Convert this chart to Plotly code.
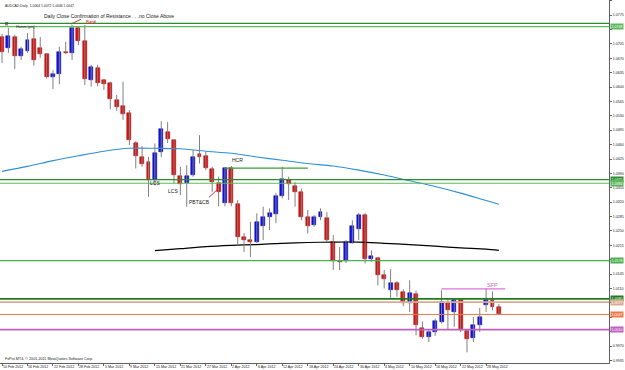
import plotly.graph_objects as go
import pandas as pd

# ---------------- data ----------------
dates = pd.bdate_range("2012-02-10", periods=79)
opens = [1.0722,1.0695,1.0722,1.0676,1.0688,1.0716,1.0694,1.0680,1.0624,1.0632,
         1.0686,1.0682,1.0744,1.0713,1.0617,1.0647,1.0617,1.0609,1.0568,1.0554,
         1.0536,1.0464,1.0430,1.0418,1.0375,1.0443,1.0491,1.0471,1.0383,1.0366,
         1.0386,1.0437,1.0432,1.0400,1.0367,1.0318,1.0403,1.0315,1.0236,1.0228,
         1.0224,1.0262,1.0284,1.0291,1.0335,1.0375,1.0359,1.0344,1.0284,1.0264,
         1.0283,1.0282,1.0224,1.0177,1.0176,1.0221,1.0254,1.0290,1.0181,1.0185,
         1.0144,1.0106,1.0123,1.0102,1.0074,1.0096,1.0013,0.9991,1.0004,1.0029,
         1.0075,1.0053,1.0083,1.0007,0.9989,1.0021,1.0071,1.0083,1.0064]
highs = [1.0729,1.0744,1.0727,1.0698,1.0731,1.0747,1.0722,1.0683,1.0641,1.0698,
         1.0710,1.0751,1.0747,1.0751,1.0654,1.0654,1.0619,1.0613,1.0581,1.0613,
         1.0544,1.0469,1.0456,1.0430,1.0463,1.0517,1.0515,1.0473,1.0406,1.0410,
         1.0447,1.0483,1.0442,1.0406,1.0382,1.0405,1.0408,1.0325,1.0245,1.0272,
         1.0293,1.0309,1.0305,1.0342,1.0406,1.0382,1.0369,1.0353,1.0301,1.0289,
         1.0305,1.0296,1.0240,1.0211,1.0228,1.0276,1.0294,1.0293,1.0203,1.0187,
         1.0155,1.0157,1.0128,1.0108,1.0130,1.0105,1.0030,1.0009,1.0037,1.0106,
         1.0084,1.0085,1.0086,1.0009,1.0041,1.0063,1.0111,1.0103,1.0072]
lows = [1.0658,1.0683,1.0644,1.0666,1.0683,1.0652,1.0671,1.0621,1.0595,1.0607,
        1.0680,1.0666,1.0702,1.0605,1.0601,1.0602,1.0593,1.0546,1.0542,1.0520,
        1.0459,1.0402,1.0406,1.0333,1.0361,1.0430,1.0464,1.0366,1.0337,1.0309,
        1.0382,1.0414,1.0398,1.0345,1.0310,1.0310,1.0310,1.0215,1.0199,1.0187,
        1.0220,1.0228,1.0252,1.0269,1.0329,1.0325,1.0309,1.0276,1.0244,1.0260,
        1.0276,1.0224,1.0155,1.0155,1.0172,1.0219,1.0228,1.0171,1.0175,1.0118,
        1.0110,1.0086,1.0090,1.0067,1.0053,0.9996,0.9988,0.9980,0.9995,1.0025,
        1.0009,1.0017,1.0004,0.9955,0.9980,1.0004,1.0053,1.0057,1.0046]
closes = [1.0686,1.0724,1.0676,1.0692,1.0714,1.0667,1.0680,1.0624,1.0632,1.0686,
          1.0682,1.0744,1.0713,1.0619,1.0649,1.0610,1.0607,1.0570,1.0552,1.0534,
          1.0471,1.0432,1.0414,1.0375,1.0440,1.0497,1.0473,1.0386,1.0364,1.0383,
          1.0429,1.0430,1.0402,1.0368,1.0344,1.0403,1.0318,1.0236,1.0228,1.0224,
          1.0272,1.0284,1.0293,1.0335,1.0376,1.0364,1.0345,1.0284,1.0262,1.0283,
          1.0296,1.0228,1.0176,1.0175,1.0224,1.0262,1.0290,1.0183,1.0189,1.0142,
          1.0134,1.0124,1.0106,1.0074,1.0098,1.0021,0.9992,1.0004,1.0030,1.0077,
          1.0057,1.0083,1.0009,0.9988,1.0021,1.0040,1.0082,1.0064,1.0047]

ma_blue_idx = [0,4,8,12,16,20,24,28,32,36,40,44,48,52,56,60,64,68,72,76,78]
ma_blue = [1.0395,1.0407,1.0421,1.0433,1.0444,1.0451,1.0451,1.0450,1.0444,1.0439,
           1.0430,1.0422,1.0414,1.0408,1.0398,1.0386,1.0372,1.0358,1.0342,1.0324,1.0315]
ma_black_idx = [24,28,32,36,40,44,48,52,56,60,64,68,72,76,78]
ma_black = [1.0202,1.0207,1.0212,1.0215,1.0217,1.0220,1.0222,1.0223,1.0223,1.0220,
            1.0217,1.0213,1.0209,1.0206,1.0203]

level_prices = [1.0755, 1.0747, 1.0375, 1.0366, 1.0178, 1.0085, 1.0077, 1.0047, 1.0010]
level_colors = ["#2E8B2E", "#5DB85D", "#2E8B2E", "#5DB85D", "#4CAF50", "#1E7B1E",
                "#D9AC90", "#F07848", "#C060C0"]
level_widths = [1.2, 1.2, 1.2, 1.2, 1.2, 1.8, 1.8, 1.0, 1.8]
level_tags = ["", "1.0748", "1.0375", "1.0366", "1.0178", "1.0085", "1.0077", "1.0047", "1.0010"]

hcr_x = [35, 48]; hcr_y = 1.0403
sfp_x = [69, 79]; sfp_y = 1.0109

price_ticks = [round(0.9935 + 0.0035 * k, 4) for k in range(26)]
date_labels = ["10 Feb 2012","16 Feb 2012","22 Feb 2012","28 Feb 2012","5 Mar 2012",
               "9 Mar 2012","15 Mar 2012","21 Mar 2012","27 Mar 2012","2 Apr 2012",
               "6 Apr 2012","12 Apr 2012","18 Apr 2012","24 Apr 2012","30 Apr 2012",
               "4 May 2012","10 May 2012","16 May 2012","22 May 2012","28 May 2012"]
date_tick_idx = list(range(0, 79, 4))

# ---------------- figure ----------------
idx = list(range(len(opens)))
UP, DN = "#1010E8", "#E01010"
UPL, DNL = "#0000A0", "#A00000"
FONT = "Liberation Sans, Arial"
TXT = "#202020"

fig = go.Figure()

# moving averages
fig.add_trace(go.Scatter(x=ma_blue_idx, y=ma_blue, mode="lines", line=dict(color="#2E8FD6", width=1.1, shape="spline", smoothing=0.8), hoverinfo="skip"))
fig.add_trace(go.Scatter(x=ma_black_idx, y=ma_black, mode="lines", line=dict(color="#000000", width=1.2, shape="spline", smoothing=0.8), hoverinfo="skip"))

# wicks
wx, wy = [], []
for i in idx:
    wx += [i, i, None]
    wy += [lows[i], highs[i], None]
fig.add_trace(go.Scatter(x=wx, y=wy, mode="lines", line=dict(color="#808080", width=1), hoverinfo="skip"))

# bodies
base = [min(o, c) for o, c in zip(opens, closes)]
hgt = [max(abs(c - o), 0.00006) for o, c in zip(opens, closes)]
cols = [UP if c > o else DN for o, c in zip(opens, closes)]
lcols = [UPL if c > o else DNL for o, c in zip(opens, closes)]
fig.add_trace(go.Bar(x=idx, y=hgt, base=base, width=0.62, marker=dict(color=cols, line=dict(color=lcols, width=0.5)), hoverinfo="skip"))

# HCR & SFP short lines
fig.add_trace(go.Scatter(x=hcr_x, y=[hcr_y, hcr_y], mode="lines", line=dict(color="#3C9A3C", width=1.2), hoverinfo="skip"))
fig.add_trace(go.Scatter(x=sfp_x, y=[sfp_y, sfp_y], mode="lines", line=dict(color="#E070E0", width=1.2), hoverinfo="skip"))

# pointer lines
fig.add_trace(go.Scatter(x=[10.8, 12.4], y=[1.0753, 1.0765], mode="lines", line=dict(color="#D03030", width=1), hoverinfo="skip"))
fig.add_trace(go.Scatter(x=[32.5, 33.9], y=[1.0332, 1.0352], mode="lines", line=dict(color="#D03030", width=1), hoverinfo="skip"))

shapes = []
for p, c, w in zip(level_prices, level_colors, level_widths):
    shapes.append(dict(type="line", xref="paper", x0=0, x1=1, yref="y", y0=p, y1=p, line=dict(color=c, width=w)))

ann = []
def add_text(x, y, t, size, color=TXT, xanchor="left"):
    ann.append(dict(x=x, y=y, xref="x", yref="y", text=t, showarrow=False, xanchor=xanchor, yanchor="middle",
                    font=dict(size=size, color=color, family=FONT)))

add_text(6.23, 1.0773, "Daily Close Confirmation of Resistance . . .no Close Above", 5.0)
add_text(12.8, 1.0757, "Bar#", 4.6, "#D03030")
add_text(0.1, 1.0753, "R", 4.6)
add_text(1.9, 1.0747, "Hamm (pin)", 3.6)
add_text(23.94, 1.0366, "LCS", 5.0, xanchor="center")
add_text(26.9, 1.0347, "LCS", 5.0, xanchor="center")
add_text(30.93, 1.0321, "PBT&CB", 5.0, xanchor="center")
add_text(36.97, 1.0422, "HCR", 5.0, xanchor="center")
add_text(77.0, 1.0118, "SFP", 5.4, "#D060D0", xanchor="center")

ann.append(dict(x=0.005, y=0.995, xref="paper", yref="paper", text="AUDCAD,Daily  1.0064 1.0072 1.0046 1.0047",
                showarrow=False, xanchor="left", yanchor="top", font=dict(size=3.4, color=TXT, family=FONT)))
ann.append(dict(x=0.005, y=0.01, xref="paper", yref="paper", text="FxPro MT4, © 2001-2011 MetaQuotes Software Corp.",
                showarrow=False, xanchor="left", yanchor="middle", font=dict(size=3.7, color=TXT, family=FONT)))

# date labels (left-aligned at their bar, like MT4)
for i, t in zip(date_tick_idx, date_labels):
    ann.append(dict(x=i, y=0, xref="x", yref="paper", text=t, showarrow=False, xanchor="left", yanchor="top",
                    yshift=-1, borderpad=0, font=dict(size=3.6, color=TXT, family=FONT)))

# highlighted price tags on the price scale
for p, c, t in zip(level_prices, level_colors, level_tags):
    if not t:
        continue
    ann.append(dict(x=1, y=p, xref="paper", yref="y", text=t, showarrow=False, xanchor="left", yanchor="middle",
                    xshift=1, bgcolor=c, borderpad=0.6, font=dict(size=3.6, color="#FFFFFF", family=FONT)))

tagged = [p for p, t in zip(level_prices, level_tags) if t]
tick_text = ["" if any(abs(v - p) < 0.0009 for p in tagged) else f"{v:.4f}" for v in price_ticks]

fig.update_layout(
    width=625, height=370,
    margin=dict(l=0, r=16, t=0, b=7, autoexpand=False),
    plot_bgcolor="white", paper_bgcolor="white",
    showlegend=False, barmode="overlay", bargap=0,
    shapes=shapes, annotations=ann,
    xaxis=dict(range=[-0.314, 95.29], showgrid=False, zeroline=False, showline=True, linecolor="#606060", linewidth=1,
               tickmode="array", tickvals=date_tick_idx, ticks="outside", ticklen=2, showticklabels=False,
               tickcolor="#606060", automargin=False, fixedrange=True),
    yaxis=dict(range=[0.99289, 1.08117], side="right", showgrid=False, zeroline=False, showline=True, linecolor="#606060",
               linewidth=1, tickmode="array", tickvals=price_ticks, ticktext=tick_text,
               ticks="outside", ticklen=2, tickcolor="#606060", ticklabelstandoff=0,
               tickfont=dict(size=3.6, color=TXT, family=FONT), automargin=False, fixedrange=True),
)

fig.write_html("out.html")
